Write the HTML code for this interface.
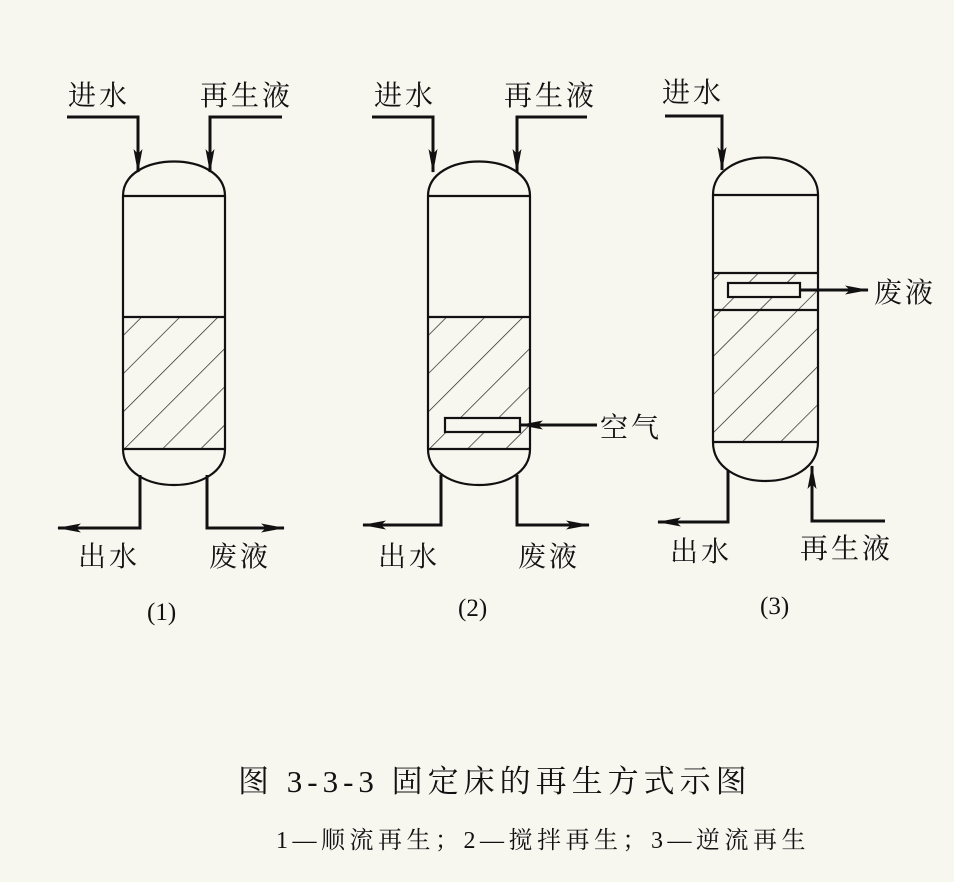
<!DOCTYPE html>
<html><head><meta charset="utf-8"><style>
html,body{margin:0;padding:0;background:#f7f6ef;}
svg{display:block}
text{font-family:"Liberation Serif","Noto Serif CJK SC","Noto Sans CJK SC",serif;fill:#111}
</style></head><body>
<svg width="954" height="882" viewBox="0 0 954 882" xmlns="http://www.w3.org/2000/svg">
<defs>
<pattern id="h" patternUnits="userSpaceOnUse" width="27" height="27" patternTransform="rotate(45)">
<line x1="0" y1="0" x2="0" y2="27" stroke="#222" stroke-width="1.4"/>
</pattern>
<marker id="a" markerWidth="24" markerHeight="12" refX="23" refY="6" orient="auto" markerUnits="userSpaceOnUse">
<path d="M0,1.5 L24,6 L0,10.5 L5,6 Z" fill="#111"/>
</marker>
</defs>
<rect width="954" height="882" fill="#f7f6ef"/>
<g stroke="#111" fill="none" stroke-width="2.2">
<g>
<rect x="123" y="317" width="102" height="132" fill="url(#h)" stroke="none"/>
<path d="M123 196 C123 150,225 150,225 196 L225 449 C225 497,123 497,123 449 Z"/>
<line x1="123" y1="196" x2="225" y2="196"/>
<line x1="123" y1="317" x2="225" y2="317"/>
<line x1="123" y1="449" x2="225" y2="449"/>
<path d="M67 117 L138 117 L138 172" stroke-width="3" marker-end="url(#a)"/>
<path d="M282 117 L210 117 L210 172" stroke-width="3" marker-end="url(#a)"/>
<path d="M140 475 L140 528 L58 528" stroke-width="3" marker-end="url(#a)"/>
<path d="M207 475 L207 528 L284 528" stroke-width="3" marker-end="url(#a)"/>
</g>
<g transform="translate(305,0)">
<rect x="123" y="317" width="102" height="132" fill="url(#h)" stroke="none"/>
<path d="M123 196 C123 150,225 150,225 196 L225 449 C225 497,123 497,123 449 Z"/>
<line x1="123" y1="196" x2="225" y2="196"/>
<line x1="123" y1="317" x2="225" y2="317"/>
<line x1="123" y1="449" x2="225" y2="449"/>
<rect x="140" y="418" width="75" height="14" fill="#f7f6ef"/>
<path d="M67 117 L128 117 L128 172" stroke-width="3" marker-end="url(#a)"/>
<path d="M282 117 L212 117 L212 172" stroke-width="3" marker-end="url(#a)"/>
<path d="M136 475 L136 525 L58 525" stroke-width="3" marker-end="url(#a)"/>
<path d="M212 475 L212 525 L284 525" stroke-width="3" marker-end="url(#a)"/>
<path d="M292 425 L215 425" stroke-width="3" marker-end="url(#a)"/>
</g>
<g>
<rect x="713" y="273" width="105" height="169" fill="url(#h)" stroke="none"/>
<path d="M713 195 C713 145,818 145,818 195 L818 442 C818 494,713 494,713 442 Z"/>
<line x1="713" y1="195" x2="818" y2="195"/>
<line x1="713" y1="273" x2="818" y2="273"/>
<line x1="713" y1="310" x2="818" y2="310"/>
<line x1="713" y1="442" x2="818" y2="442"/>
<rect x="728" y="283" width="72" height="14" fill="#f7f6ef"/>
<path d="M800 290 L868 290" stroke-width="3" marker-end="url(#a)"/>
<path d="M665 116 L722 116 L722 170" stroke-width="3" marker-end="url(#a)"/>
<path d="M728 470 L728 522 L658 522" stroke-width="3" marker-end="url(#a)"/>
<path d="M885 521 L812 521 L812 466" stroke-width="3" marker-end="url(#a)"/>
</g>
</g>
<g font-size="28" letter-spacing="3">
<text x="68" y="105">进水</text>
<text x="200" y="105">再生液</text>
<text x="78" y="566">出水</text>
<text x="209" y="566">废液</text>
<text x="374" y="105">进水</text>
<text x="504" y="105">再生液</text>
<text x="378" y="566">出水</text>
<text x="518" y="566">废液</text>
<text x="600" y="437">空气</text>
<text x="662" y="102">进水</text>
<text x="874" y="302">废液</text>
<text x="670" y="561">出水</text>
<text x="800" y="558">再生液</text>
</g>
<g font-size="25">
<text x="147" y="620">(1)</text>
<text x="458" y="616">(2)</text>
<text x="760" y="614">(3)</text>
</g>
<text x="238" y="792" font-size="31" letter-spacing="5">图 3-3-3  固定床的再生方式示图</text>
<text x="276" y="848" font-size="24" letter-spacing="4.5">1—顺流再生；2—搅拌再生；3—逆流再生</text>
</svg>
</body></html>
